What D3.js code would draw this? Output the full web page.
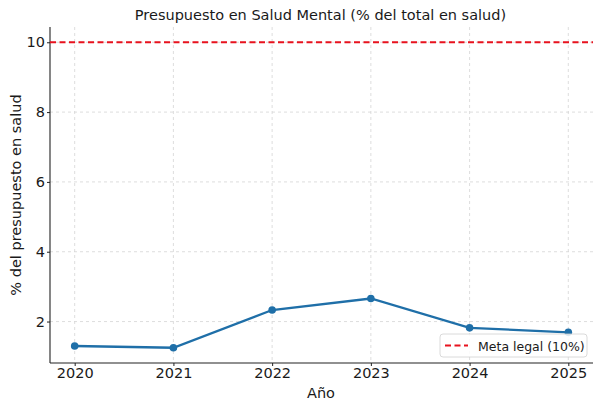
<!DOCTYPE html>
<html><head><meta charset="utf-8">
<script src="https://cdn.jsdelivr.net/npm/d3@7"></script>
<style>body{margin:0;background:#fff}svg{display:block}text{font-family:"DejaVu Sans",sans-serif}</style>
</head><body>
<svg id="c" width="601" height="410"></svg>
<script>
const years = [2020, 2021, 2022, 2023, 2024, 2025];
const values = [1.30, 1.25, 2.33, 2.66, 1.82, 1.69];
const goal = 10;
const yTicks = [2, 4, 6, 8, 10];
const title = "Presupuesto en Salud Mental (% del total en salud)";
const xLabel = "Año";
const yLabel = "% del presupuesto en salud";
const legendLabel = "Meta legal (10%)";

const svg = d3.select("#c");
const L = 50, R = 593, T = 27, B = 363;
const x = d3.scaleLinear().domain([2019.75, 2025.25]).range([L, R]);
const y = d3.scaleLinear().domain([0.8125, 10.4375]).range([B, T]);

const grid = svg.append("g");
years.forEach(v => grid.append("line").attr("x1", x(v)).attr("x2", x(v)).attr("y1", T).attr("y2", B)
  .attr("stroke", "#d6d6d6").attr("stroke-width", 0.8).attr("stroke-dasharray", "3,3"));
yTicks.forEach(v => grid.append("line").attr("x1", L).attr("x2", R).attr("y1", y(v)).attr("y2", y(v))
  .attr("stroke", "#d6d6d6").attr("stroke-width", 0.8).attr("stroke-dasharray", "3,3"));

const xa = svg.append("g").attr("transform", `translate(0,${B})`)
  .call(d3.axisBottom(x).tickValues(years).tickFormat(d3.format("d")).tickSizeOuter(0).tickSize(3).tickPadding(1.5));
const ya = svg.append("g").attr("transform", `translate(${L},0)`)
  .call(d3.axisLeft(y).tickValues(yTicks).tickSizeOuter(0).tickSize(3).tickPadding(2));
[xa, ya].forEach(a => {
  a.select(".domain").attr("stroke", "#222").attr("stroke-width", 1.1);
  a.selectAll(".tick line").attr("stroke", "#222");
  a.selectAll("text").attr("font-size", 14.5).attr("fill", "#1a1a1a").style("font-family", "DejaVu Sans");
});
xa.select(".domain").attr("d", `M${L},0H${R}`);
ya.select(".domain").attr("d", `M0,${T}V${B}`);

svg.append("line").attr("x1", L).attr("x2", R).attr("y1", y(goal)).attr("y2", y(goal))
  .attr("stroke", "#e8121e").attr("stroke-width", 1.8).attr("stroke-dasharray", "6,3.5");

const line = d3.line().x((d, i) => x(years[i])).y(d => y(d));
svg.append("path").datum(values).attr("d", line).attr("fill", "none")
  .attr("stroke", "#1f6fa8").attr("stroke-width", 2.3);
svg.selectAll("circle.p").data(values).join("circle").attr("class", "p")
  .attr("cx", (d, i) => x(years[i])).attr("cy", d => y(d)).attr("r", 3.8).attr("fill", "#1f6fa8");

svg.append("text").attr("x", (L + R) / 2 - 1).attr("y", 20).attr("text-anchor", "middle")
  .attr("font-size", 14.5).attr("fill", "#1a1a1a").text(title);
svg.append("text").attr("x", 321).attr("y", 398).attr("text-anchor", "middle")
  .attr("font-size", 14.5).attr("fill", "#1a1a1a").text(xLabel);
svg.append("text").attr("transform", `translate(21,${(T + B) / 2}) rotate(-90)`).attr("text-anchor", "middle")
  .attr("font-size", 14.5).attr("fill", "#1a1a1a").text(yLabel);

const lg = svg.append("g").attr("transform", "translate(440,334)");
lg.append("rect").attr("width", 147).attr("height", 23).attr("rx", 3).attr("fill", "#fff")
  .attr("fill-opacity", 0.85).attr("stroke", "#d0d0d0").attr("stroke-width", 0.8);
lg.append("line").attr("x1", 5).attr("x2", 28).attr("y1", 11.5).attr("y2", 11.5)
  .attr("stroke", "#e8121e").attr("stroke-width", 1.8).attr("stroke-dasharray", "6,3.5");
lg.append("text").attr("x", 38).attr("y", 16.5).attr("font-size", 12.5).attr("fill", "#1a1a1a").text(legendLabel);
</script>
</body></html>
